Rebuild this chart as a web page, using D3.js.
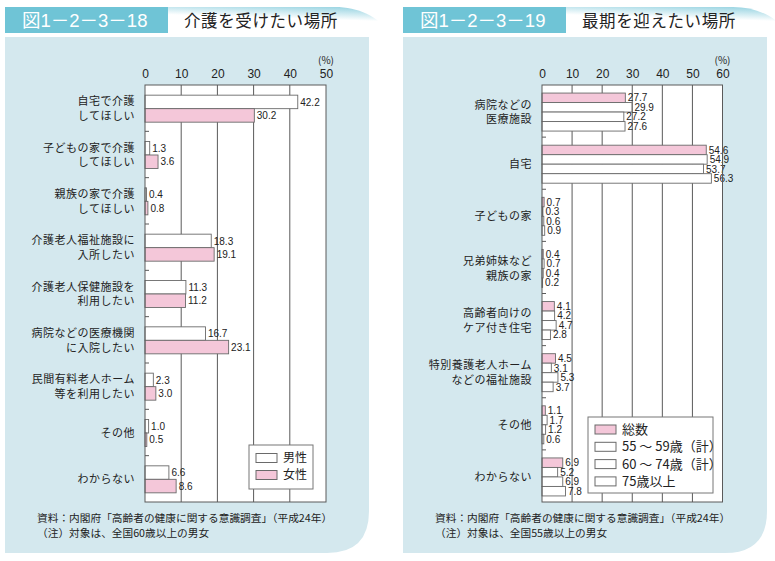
<!DOCTYPE html>
<html>
<head>
<meta charset="utf-8">
<script src="https://cdn.jsdelivr.net/npm/d3@7"></script>
<style>
  body { margin: 0; background: #fff; }
  svg text { font-family: "Noto Sans CJK JP", "Liberation Sans", sans-serif; }
</style>
</head>
<body>
<svg id="chart" width="775" height="561"></svg>
<script>
// 図1-2-3-18 介護を受けたい場所
var careLabels = [
  ["自宅で介護", "してほしい"],
  ["子どもの家で介護", "してほしい"],
  ["親族の家で介護", "してほしい"],
  ["介護老人福祉施設に", "入所したい"],
  ["介護老人保健施設を", "利用したい"],
  ["病院などの医療機関", "に入院したい"],
  ["民間有料老人ホーム", "等を利用したい"],
  ["その他"],
  ["わからない"]
];
var careSeries = ["男性", "女性"];
var careMale   = [42.2, 1.3, 0.4, 18.3, 11.3, 16.7, 2.3, 1.0, 6.6];
var careFemale = [30.2, 3.6, 0.8, 19.1, 11.2, 23.1, 3.0, 0.5, 8.6];
var careTicks  = [0, 10, 20, 30, 40, 50];

// 図1-2-3-19 最期を迎えたい場所
var endLabels = [
  ["病院などの", "医療施設"],
  ["自宅"],
  ["子どもの家"],
  ["兄弟姉妹など", "親族の家"],
  ["高齢者向けの", "ケア付き住宅"],
  ["特別養護老人ホーム", "などの福祉施設"],
  ["その他"],
  ["わからない"]
];
var endSeries = ["総数", "55 ～ 59歳（計）", "60 ～ 74歳（計）", "75歳以上"];
var endTotal = [27.7, 54.6, 0.7, 0.4, 4.1, 4.5, 1.1, 6.9];
var end5559  = [29.9, 54.9, 0.3, 0.7, 4.2, 3.1, 1.7, 5.2];
var end6074  = [27.2, 53.7, 0.6, 0.4, 4.7, 5.3, 1.2, 6.9];
var end75    = [27.6, 56.3, 0.9, 0.2, 2.8, 3.7, 0.6, 7.8];
var endTicks = [0, 10, 20, 30, 40, 50, 60];

var PINK = "#f4c7d9", TEAL = "#6fc4d6", PANEL = "#d4e8ee", LINE = "#5a5a5a";

var svg = d3.select("#chart");
var defs = svg.append("defs");
var grad = defs.append("linearGradient").attr("id", "swoosh")
  .attr("x1", "0.55").attr("y1", "1").attr("x2", "1").attr("y2", "0");
grad.append("stop").attr("offset", "0").attr("stop-color", "#ffffff");
grad.append("stop").attr("offset", "0.55").attr("stop-color", "#ffffff");
grad.append("stop").attr("offset", "1").attr("stop-color", "#8fd0df");

function drawPanel(cfg) {
  var g = svg.append("g").attr("transform", "translate(" + cfg.dx + ",0)");

  // header
  g.append("path").attr("d", "M5,7 L335,7 C358,7 378,16 390,34 L5,34 Z").attr("fill", "url(#swoosh)");
  g.append("rect").attr("x", 5).attr("y", 7).attr("width", 163).attr("height", 26).attr("fill", TEAL);
  g.append("text").attr("x", 22).attr("y", 27).attr("fill", "#fff").style("font-size", "18.5px")
    .style("font-family", "'Liberation Sans', 'Noto Sans CJK JP', sans-serif")
    .text(cfg.figNo);
  g.append("text").attr("x", 184).attr("y", 27).attr("fill", "#222").style("font-size", "16.5px")
    .style("font-weight", "400").style("letter-spacing", "0.6px").text(cfg.title);

  // panel with rounded bottom-right
  var r = 42;
  g.append("path").attr("d", "M5,37 L369,37 L369," + (553 - r) + " Q369,553 " + (369 - r) + ",553 L5,553 Z")
    .attr("fill", PANEL);

  var x = d3.scaleLinear().domain([0, cfg.max]).range([cfg.x0, cfg.x1]);
  var y0 = 85, y1 = 502;
  var y = d3.scaleBand().domain(d3.range(cfg.labels.length)).range([y0, y1]);
  var inner = d3.scaleBand().domain(d3.range(cfg.series.length)).range([0, cfg.barH * cfg.series.length]);
  var off = (y.bandwidth() - cfg.barH * cfg.series.length) / 2 + cfg.shift;

  g.append("rect").attr("x", cfg.x0).attr("y", y0).attr("width", cfg.x1 - cfg.x0).attr("height", y1 - y0)
    .attr("fill", "#fff");

  // grid
  g.selectAll(".grid").data(cfg.ticks.slice(1, -1)).enter().append("line")
    .attr("x1", function (d) { return x(d); }).attr("x2", function (d) { return x(d); })
    .attr("y1", y0).attr("y2", y1).attr("stroke", LINE).attr("stroke-width", 1);

  // top axis labels
  var ax = d3.axisTop(x).tickValues(cfg.ticks).tickSize(0).tickPadding(0);
  var axg = g.append("g").attr("transform", "translate(0,78)").call(ax);
  axg.select(".domain").remove();
  axg.selectAll("text").style("font-size", "12px").attr("fill", "#222")
    .style("font-family", "'Liberation Sans', sans-serif");
  g.append("text").attr("x", x(cfg.max)).attr("y", 64).attr("text-anchor", "middle")
    .style("font-size", "10px").attr("fill", "#222").text("(%)");

  // bars
  var rows = [];
  cfg.labels.forEach(function (lab, i) {
    cfg.values.forEach(function (vals, s) {
      rows.push({ i: i, s: s, v: vals[i] });
    });
  });
  g.selectAll(".bar").data(rows).enter().append("rect")
    .attr("x", cfg.x0)
    .attr("y", function (d) { return y(d.i) + off + inner(d.s); })
    .attr("width", function (d) { return x(d.v) - cfg.x0; })
    .attr("height", inner.bandwidth())
    .attr("fill", function (d) { return cfg.colors[d.s]; })
    .attr("stroke", "#6a6a6a").attr("stroke-width", 0.9);

  g.selectAll(".val").data(rows).enter().append("text")
    .attr("x", function (d) { return x(d.v) + 2.5; })
    .attr("y", function (d) { return y(d.i) + off + inner(d.s) + inner.bandwidth() / 2; })
    .attr("dy", "0.36em")
    .style("font-size", "10px").style("font-family", "'Liberation Sans', sans-serif")
    .attr("fill", "#222")
    .text(function (d) { return d.v.toFixed(1); });

  // plot border and group ticks
  g.append("rect").attr("x", cfg.x0).attr("y", y0).attr("width", cfg.x1 - cfg.x0).attr("height", y1 - y0)
    .attr("fill", "none").attr("stroke", LINE).attr("stroke-width", 1);
  g.selectAll(".gtick").data(d3.range(1, cfg.labels.length)).enter().append("line")
    .attr("x1", cfg.x0).attr("x2", cfg.x0 + 4)
    .attr("y1", function (d) { return y(d); }).attr("y2", function (d) { return y(d); })
    .attr("stroke", LINE);

  // category labels
  cfg.labels.forEach(function (lines, i) {
    var cy = y(i) + y.bandwidth() / 2 + cfg.shift;
    var t = g.append("text").attr("text-anchor", "end").style("font-size", "11px").attr("fill", "#222");
    lines.forEach(function (ln, k) {
      t.append("tspan").attr("x", cfg.labelX)
        .attr("y", cy + (k - (lines.length - 1) / 2) * 14.5)
        .attr("dy", "0.36em").style("letter-spacing", "0.5px").text(ln);
    });
  });

  // legend
  var L = cfg.legend;
  g.append("rect").attr("x", L.x).attr("y", L.y).attr("width", L.w).attr("height", L.h)
    .attr("fill", "#fff").attr("stroke", "#777");
  cfg.series.forEach(function (name, s) {
    g.append("rect").attr("x", L.x + 7).attr("y", L.y + L.top + s * L.step)
      .attr("width", 21).attr("height", 9).attr("fill", cfg.colors[s]).attr("stroke", "#6a6a6a");
    g.append("text").attr("x", L.x + 34).attr("y", L.y + L.top + s * L.step + 4.5).attr("dy", "0.36em")
      .style("font-size", L.font + "px").attr("fill", "#222").text(name);
  });

  // notes
  g.append("text").attr("x", cfg.noteX).attr("y", 522).style("font-size", "10.7px").attr("fill", "#222")
    .text("資料：内閣府「高齢者の健康に関する意識調査」（平成24年）");
  g.append("text").attr("x", cfg.noteX).attr("y", 537).style("font-size", "10.7px").attr("fill", "#222")
    .text(cfg.note);
}

drawPanel({
  dx: 0, figNo: "図1－2－3－18", title: "介護を受けたい場所",
  labels: careLabels, series: careSeries, values: [careMale, careFemale],
  colors: ["#ffffff", PINK], ticks: careTicks, max: 50,
  x0: 145, x1: 326, barH: 13.5, shift: 0.5, labelX: 135,
  legend: { x: 249, y: 445, w: 64, h: 44, top: 8.5, step: 17, font: 12 },
  noteX: 37, note: "（注）対象は、全国60歳以上の男女"
});

drawPanel({
  dx: 398, figNo: "図1－2－3－19", title: "最期を迎えたい場所",
  labels: endLabels, series: endSeries, values: [endTotal, end5559, end6074, end75],
  colors: [PINK, "#ffffff", "#ffffff", "#ffffff"], ticks: endTicks, max: 60,
  x0: 144, x1: 324.5, barH: 9.5, shift: 1, labelX: 134,
  legend: { x: 190, y: 417, w: 125, h: 76, top: 8, step: 17.3, font: 13 },
  noteX: 37, note: "（注）対象は、全国55歳以上の男女"
});
</script>
</body>
</html>
